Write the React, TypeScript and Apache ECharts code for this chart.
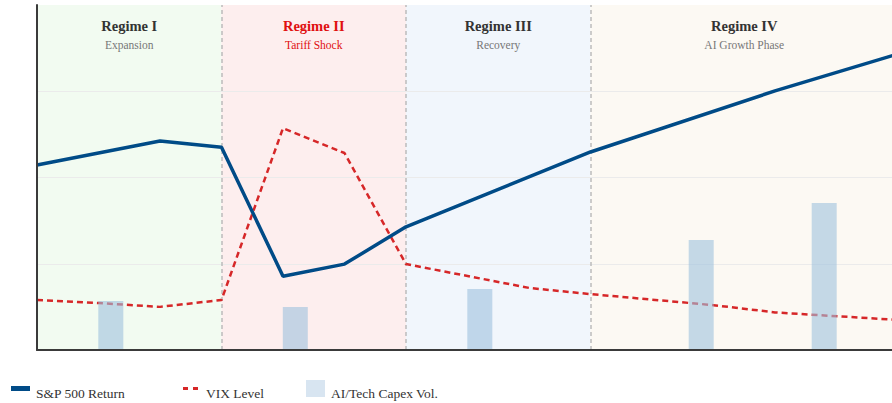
import React, { useEffect, useRef } from "react";
import * as echarts from "echarts";

const spX = [0, 2, 3, 4, 5, 6, 9, 12, 14];
const spY = [53.6, 60.6, 58.8, 21.4, 24.9, 35.7, 57.4, 75.1, 85.8];
const vixX = [0, 1, 2, 3, 4, 5, 6, 8, 9, 11, 12, 14];
const vixY = [14.5, 13.6, 12.5, 14.5, 64.3, 57.1, 24.9, 18.0, 16.2, 13.0, 10.9, 8.7];
const capexX = [1.2, 4.2, 7.2, 10.8, 12.8];
const capexY = [14.2, 12.5, 17.7, 31.9, 42.6];
const regimes = [
  { title: "Regime I", sub: "Expansion", from: 0, to: 3, bg: "#f2fbf1", color: "#333333", subColor: "#777777" },
  { title: "Regime II", sub: "Tariff Shock", from: 3, to: 6, bg: "#fdeeee", color: "#e01010", subColor: "#e01010" },
  { title: "Regime III", sub: "Recovery", from: 6, to: 9, bg: "#f1f6fc", color: "#333333", subColor: "#777777" },
  { title: "Regime IV", sub: "AI Growth Phase", from: 9, to: 14, bg: "#fcf9f3", color: "#333333", subColor: "#777777" },
];
const dividers = [3, 6, 9];
const gridValues = [25, 50, 75];
const legendNames = ["S&P 500 Return", "VIX Level", "AI/Tech Capex Vol."];

const FONT = "Liberation Serif";

export default function App() {
  const ref = useRef<HTMLDivElement>(null);
  useEffect(() => {
    document.body.style.margin = "0";
    document.body.style.overflow = "hidden";
    const chart = echarts.init(ref.current!, null, { renderer: "svg" });
    const zip = (xs: number[], ys: number[]) => xs.map((x, i) => [x, ys[i]]);
    chart.setOption({
      animation: false,
      textStyle: { fontFamily: FONT },
      grid: { left: 37, right: 0, top: 5, bottom: 53 },
      xAxis: {
        type: "value",
        min: 0,
        max: 14,
        z: 10,
        axisLine: { show: true, lineStyle: { color: "#3a3a3a", width: 2 } },
        axisTick: { show: false },
        axisLabel: { show: false },
        splitLine: { show: false },
      },
      yAxis: {
        type: "value",
        min: 0,
        max: 100,
        interval: 25,
        z: 10,
        axisLine: { show: true, lineStyle: { color: "#3a3a3a", width: 2 } },
        axisTick: { show: false },
        axisLabel: { show: false },
        splitLine: { show: false },
      },
      series: [
        {
          type: "line",
          name: "regimes",
          data: [],
          z: 1,
          silent: true,
          markArea: {
            silent: true,
            z: 1,
            data: regimes.map((r) => [
              {
                name: r.title,
                xAxis: r.from,
                itemStyle: { color: r.bg },
                label: {
                  show: true,
                  position: "insideTop",
                  distance: 11,
                  formatter: `{t|${r.title}}\n{s|${r.sub}}`,
                  rich: {
                    t: { fontFamily: FONT, fontSize: 14.5, fontWeight: "bold", color: r.color, lineHeight: 20 },
                    s: { fontFamily: FONT, fontSize: 11.5, color: r.subColor, lineHeight: 18 },
                  },
                },
              },
              { xAxis: r.to },
            ]),
          },
        },
        {
          type: "line",
          name: "gridlines",
          data: [],
          z: 1.5,
          silent: true,
          markLine: {
            silent: true,
            z: 1.5,
            symbol: "none",
            label: { show: false },
            lineStyle: { color: "#ebebeb", type: "solid", width: 1 },
            data: gridValues.map((v) => ({ yAxis: v })),
          },
        },
        {
          type: "line",
          name: "dividers",
          data: [],
          z: 1.7,
          silent: true,
          markLine: {
            silent: true,
            z: 1.7,
            symbol: "none",
            label: { show: false },
            lineStyle: { color: "#bcbcbc", type: [4, 3], width: 1.5 },
            data: dividers.map((d) => ({ xAxis: d })),
          },
        },
        {
          type: "line",
          name: legendNames[1],
          data: zip(vixX, vixY),
          z: 2,
          symbol: "none",
          lineStyle: { color: "#d62728", width: 2.5, type: [6, 4] },
        },
        {
          type: "bar",
          name: legendNames[2],
          data: zip(capexX, capexY),
          z: 3,
          barWidth: 25,
          itemStyle: { color: "rgba(159,194,221,0.6)" },
        },
        {
          type: "line",
          name: legendNames[0],
          data: zip(spX, spY),
          z: 4,
          symbol: "none",
          lineStyle: { color: "#004b87", width: 3.5 },
        },
      ],
      graphic: [
        { type: "rect", left: 11, top: 386, shape: { width: 19, height: 5 }, style: { fill: "#004b87" } },
        { type: "text", left: 36, top: 386, style: { text: legendNames[0], font: `13.5px "${FONT}"`, fill: "#333" } },
        { type: "rect", left: 183, top: 387, shape: { width: 5, height: 3 }, style: { fill: "#d62728" } },
        { type: "rect", left: 193, top: 387, shape: { width: 5, height: 3 }, style: { fill: "#d62728" } },
        { type: "text", left: 206, top: 386, style: { text: legendNames[1], font: `13.5px "${FONT}"`, fill: "#333" } },
        { type: "rect", left: 306, top: 380, shape: { width: 19, height: 17 }, style: { fill: "#d8e5f1" } },
        { type: "text", left: 331, top: 386, style: { text: legendNames[2], font: `13.5px "${FONT}"`, fill: "#333" } },
      ],
    });
    return () => chart.dispose();
  }, []);
  return (
    <div style={{ width: 892, height: 403, overflow: "hidden" }}>
      <div ref={ref} style={{ width: 898, height: 403 }} />
    </div>
  );
}
